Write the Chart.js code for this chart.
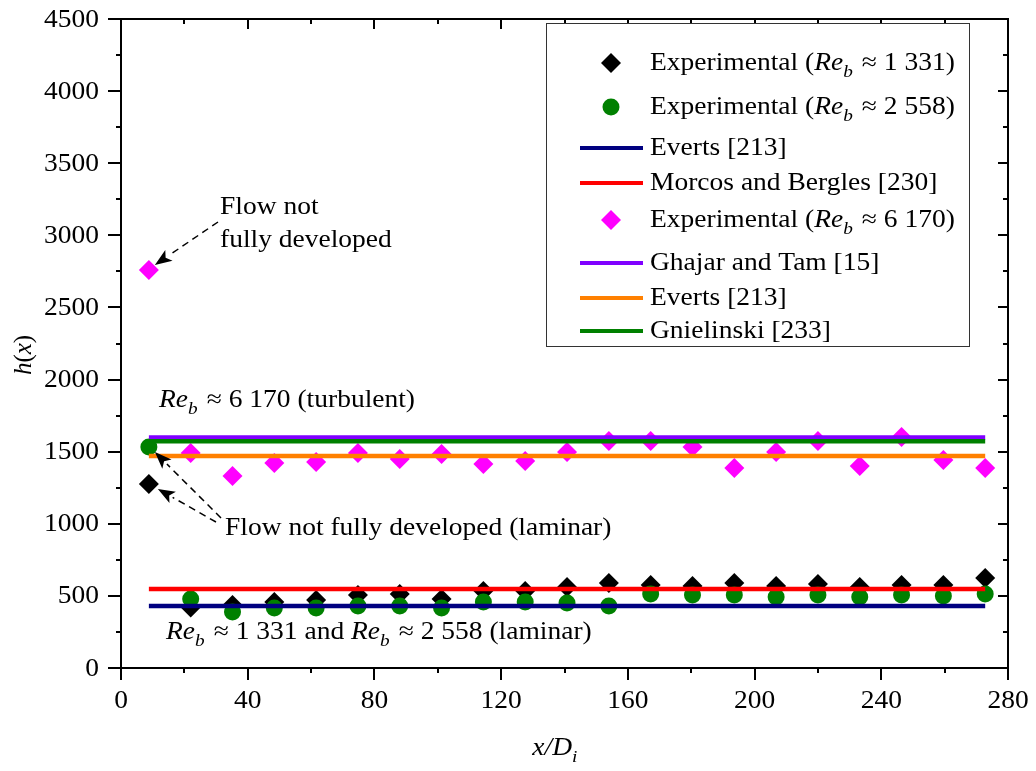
<!DOCTYPE html>
<html>
<head>
<meta charset="utf-8">
<script src="https://cdn.jsdelivr.net/npm/chart.js@4.4.0/dist/chart.umd.min.js"></script>
<style>
  html, body { margin: 0; padding: 0; background: #fff; }
  #wrap { width: 1036px; height: 771px; }
</style>
</head>
<body>
<div id="wrap"><canvas id="c" width="1036" height="771"></canvas></div>
<script>
// ── DATA ─────────────────────────────────────
const xPos = [8.8, 22.0, 35.2, 48.4, 61.6, 74.8, 88.0, 101.2, 114.4, 127.6, 140.8,
              154.0, 167.2, 180.4, 193.6, 206.8, 220.0, 233.2, 246.4, 259.6, 272.8];
const hRe1331 = [1276, 420, 437, 458, 471, 506, 513, 478, 534, 534, 562,
                 589, 575, 569, 589, 569, 582, 562, 575, 575, 624];
const hRe2558 = [1532, 478, 388, 416, 416, 430, 430, 416, 458, 458, 451,
                 430, 513, 506, 506, 492, 506, 492, 506, 499, 513];
const hRe6170 = [2760, 1491, 1331, 1421, 1428, 1491, 1449, 1484, 1414, 1435, 1498,
                 1574, 1574, 1532, 1387, 1498, 1574, 1400, 1602, 1442, 1387];
const lineX = [8.8, 272.8];
const evertsLam = 430, morcosBergles = 548, ghajarTam = 1598, evertsTurb = 1470, gnielinski = 1572;

const yTicks = [0, 500, 1000, 1500, 2000, 2500, 3000, 3500, 4000, 4500];
const xTicks = [0, 40, 80, 120, 160, 200, 240, 280];

const legendItems = [
  { kind: 'diamond', color: '#000000', text: [['Experimental ('], ['Re', 'i'], ['b', 's'], [' \u2248 1 331)']] },
  { kind: 'circle',  color: '#008000', text: [['Experimental ('], ['Re', 'i'], ['b', 's'], [' \u2248 2 558)']] },
  { kind: 'line',    color: '#000080', text: [['Everts [213]']] },
  { kind: 'line',    color: '#ff0000', text: [['Morcos and Bergles [230]']] },
  { kind: 'diamond', color: '#ff00ff', text: [['Experimental ('], ['Re', 'i'], ['b', 's'], [' \u2248 6 170)']] },
  { kind: 'line',    color: '#8000ff', text: [['Ghajar and Tam [15]']] },
  { kind: 'line',    color: '#ff8000', text: [['Everts [213]']] },
  { kind: 'line',    color: '#008000', text: [['Gnielinski [233]']] },
];

const FONT = '"Liberation Serif", "Times New Roman", serif';
const SX = 1.1;   // the reference text is a little wide

// ── HELPERS ──────────────────────────────────
const pts = (xs, ys) => xs.map((x, i) => ({ x, y: ys[i] }));
const flat = v => lineX.map(x => ({ x, y: v }));

function richWidth(ctx, parts, size) {
  let w = 0;
  parts.forEach(([t, f = '']) => {
    const sub = f.includes('s');
    ctx.font = `${f ? 'italic ' : ''}${sub ? size * 0.7 : size}px ${FONT}`;
    w += ctx.measureText(t).width + (sub ? 2 : 0);
  });
  return w;
}

function drawRich(ctx, parts, x, y, size, sx = SX) {
  // parts: [text, flags]   i = italic, s = italic subscript
  ctx.save();
  ctx.translate(x, y); ctx.scale(sx, 1);
  let cx = 0;
  parts.forEach(([t, f = '']) => {
    const sub = f.includes('s');
    ctx.font = `${f ? 'italic ' : ''}${sub ? size * 0.7 : size}px ${FONT}`;
    ctx.fillText(t, cx, sub ? size * 0.36 : 0);
    cx += ctx.measureText(t).width + (sub ? 2 : 0);
  });
  ctx.restore();
}

function arrow(ctx, x1, y1, x2, y2) {
  const ang = Math.atan2(y2 - y1, x2 - x1);
  const hl = 17, hw = 6.5;
  const bx = x2 - hl * Math.cos(ang), by = y2 - hl * Math.sin(ang);
  ctx.save();
  ctx.strokeStyle = '#000'; ctx.fillStyle = '#000'; ctx.lineWidth = 1.5;
  ctx.setLineDash([7, 5]);
  ctx.beginPath(); ctx.moveTo(x1, y1); ctx.lineTo(bx, by); ctx.stroke();
  ctx.setLineDash([]);
  ctx.beginPath();
  ctx.moveTo(x2, y2);
  ctx.lineTo(bx + hw * Math.sin(ang), by - hw * Math.cos(ang));
  ctx.lineTo(bx + 4 * Math.cos(ang), by + 4 * Math.sin(ang));
  ctx.lineTo(bx - hw * Math.sin(ang), by + hw * Math.cos(ang));
  ctx.closePath(); ctx.fill();
  ctx.restore();
}

// ── FRAME, TICKS, LEGEND, NOTES ──────────────
const decor = {
  id: 'decor',
  afterDatasetsDraw(chart) {
    const { ctx, chartArea: a, scales: { x, y } } = chart;
    ctx.save();
    ctx.strokeStyle = '#000'; ctx.lineWidth = 2;
    ctx.strokeRect(a.left, a.top, a.right - a.left, a.bottom - a.top);
    // outward ticks on left/bottom, inward on top/right
    ctx.beginPath();
    for (let v = 0; v <= 4500; v += 250) {
      const py = Math.round(y.getPixelForValue(v));
      const major = v % 500 === 0;
      ctx.moveTo(a.left, py); ctx.lineTo(a.left - (major ? 13 : 5), py);
      ctx.moveTo(a.right, py); ctx.lineTo(a.right - (major ? 10 : 5), py);
    }
    for (let v = 0; v <= 280; v += 20) {
      const px = Math.round(x.getPixelForValue(v));
      const major = v % 40 === 0;
      ctx.moveTo(px, a.bottom); ctx.lineTo(px, a.bottom + (major ? 12 : 5));
      ctx.moveTo(px, a.top); ctx.lineTo(px, a.top + (major ? 10 : 5));
    }
    ctx.stroke();

    // tick labels
    ctx.fillStyle = '#000';
    ctx.textBaseline = 'middle';
    yTicks.forEach(v => {
      const t = [[String(v)]];
      const w = richWidth(ctx, t, 25) * SX;
      drawRich(ctx, t, 99 - w, y.getPixelForValue(v) + 1, 25);
    });
    xTicks.forEach(v => {
      const t = [[String(v)]];
      const w = richWidth(ctx, t, 25) * SX;
      drawRich(ctx, t, x.getPixelForValue(v) - w / 2, 701, 25);
    });

    // legend
    const lx = 546, ly = 23, lw = 423, lh = 323;
    ctx.fillStyle = '#fff';
    ctx.fillRect(lx, ly, lw, lh);
    ctx.strokeStyle = '#333'; ctx.lineWidth = 1;
    ctx.strokeRect(lx + 0.5, ly + 0.5, lw, lh);
    const rows = [63, 107, 148, 183, 220, 263, 298, 331];
    legendItems.forEach((it, i) => {
      const cy = rows[i];
      ctx.fillStyle = it.color; ctx.strokeStyle = it.color;
      if (it.kind === 'diamond') {
        ctx.beginPath();
        ctx.moveTo(611, cy - 10); ctx.lineTo(621, cy); ctx.lineTo(611, cy + 10); ctx.lineTo(601, cy);
        ctx.closePath(); ctx.fill();
      } else if (it.kind === 'circle') {
        ctx.beginPath(); ctx.arc(611, cy, 8.5, 0, Math.PI * 2); ctx.fill();
      } else {
        ctx.lineWidth = 4;
        ctx.beginPath(); ctx.moveTo(580, cy); ctx.lineTo(643, cy); ctx.stroke();
      }
      ctx.fillStyle = '#000';
      drawRich(ctx, it.text, 650, cy, 25);
    });

    // annotations
    ctx.fillStyle = '#000';
    drawRich(ctx, [['Flow not']], 220, 207, 25);
    drawRich(ctx, [['fully developed']], 220, 240, 25);
    drawRich(ctx, [['Re', 'i'], ['b', 's'], [' \u2248 6 170 (turbulent)']], 159, 400, 25);
    drawRich(ctx, [['Flow not fully developed (laminar)']], 225, 528, 25);
    drawRich(ctx, [['Re', 'i'], ['b', 's'], [' \u2248 1 331 and '], ['Re', 'i'], ['b', 's'], [' \u2248 2 558 (laminar)']], 166, 632, 25);

    const px0 = x.getPixelForValue(xPos[0]);
    arrow(ctx, 218, 222, px0 + 6, y.getPixelForValue(hRe6170[0]) - 5);
    arrow(ctx, 221, 518, px0 + 6, y.getPixelForValue(hRe2558[0]) + 5);
    arrow(ctx, 216, 522, px0 + 9, y.getPixelForValue(hRe1331[0]) + 5);

    // axis titles
    const yt = [['h', 'i'], ['('], ['x', 'i'], [')']];
    ctx.save();
    ctx.translate(24, 355); ctx.rotate(-Math.PI / 2);
    drawRich(ctx, yt, -richWidth(ctx, yt, 25) / 2, 0, 25, 1);
    ctx.restore();
    const xt = [['x/D', 'i'], ['i', 's']];
    drawRich(ctx, xt, 556 - richWidth(ctx, xt, 25) * SX / 2, 748, 25);
    ctx.restore();
  }
};

// ── CHART ────────────────────────────────────
const scatterDs = (data, color, style, r) => ({
  type: 'scatter', data, pointStyle: style, pointRadius: r, pointHoverRadius: r,
  backgroundColor: color, borderColor: color, borderWidth: 0, showLine: false
});
const lineDs = (v, color) => ({
  type: 'line', data: flat(v), borderColor: color, borderWidth: 4.5,
  pointRadius: 0, fill: false, tension: 0
});

const datasets = [
  scatterDs(pts(xPos, hRe1331), '#000000', 'rectRot', 10),
  scatterDs(pts(xPos, hRe2558), '#008000', 'circle', 8.5),
  lineDs(evertsLam, '#000080'),
  lineDs(morcosBergles, '#ff0000'),
  scatterDs(pts(xPos, hRe6170), '#ff00ff', 'rectRot', 10),
  lineDs(ghajarTam, '#8000ff'),
  lineDs(evertsTurb, '#ff8000'),
  lineDs(gnielinski, '#008000'),
];
datasets.forEach((d, i) => { d.order = datasets.length - i; });

new Chart(document.getElementById('c'), {
  data: { datasets },
  options: {
    responsive: false, animation: false,
    layout: { padding: { top: 19, right: 28, left: 0, bottom: 0 } },
    plugins: { legend: { display: false }, tooltip: { enabled: false } },
    scales: {
      x: {
        type: 'linear', min: 0, max: 280,
        afterBuildTicks: s => { s.ticks = xTicks.map(v => ({ value: v })); },
        afterFit: s => { s.height = 103; },
        grid: { display: false },
        border: { display: false },
        ticks: { display: false }
      },
      y: {
        type: 'linear', min: 0, max: 4500,
        afterBuildTicks: s => { s.ticks = yTicks.map(v => ({ value: v })); },
        afterFit: s => { s.width = 121; },
        grid: { display: false },
        border: { display: false },
        ticks: { display: false }
      }
    }
  },
  plugins: [decor]
});
</script>
</body>
</html>
